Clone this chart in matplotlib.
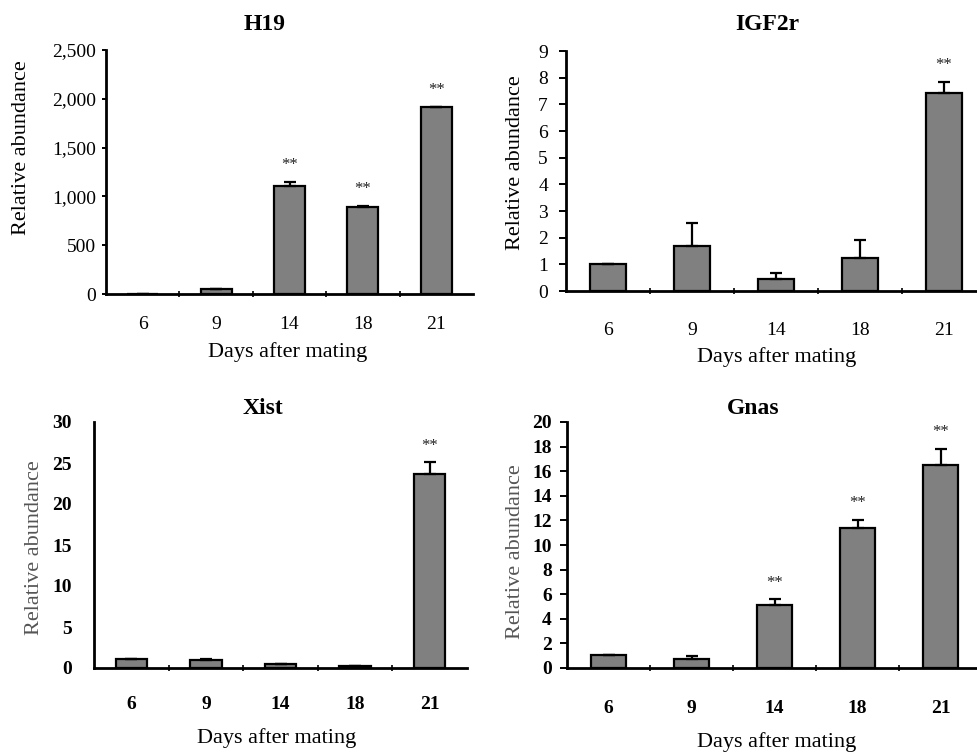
"""
:synopsis: Relative abundance of imprinted genes by days after mating.
"""

# third party imports
from matplotlib import pyplot
from matplotlib.ticker import FuncFormatter
import numpy

# chart data
days = ['6', '9', '14', '18', '21']

h19_values = [1, 48, 1107, 888, 1919]
h19_errors = [0, 4, 44, 17, 0]
h19_stars = [False, False, True, True, True]

igf2r_values = [1.0, 1.69, 0.44, 1.25, 7.44]
igf2r_errors = [0, 0.85, 0.22, 0.66, 0.41]
igf2r_stars = [False, False, False, False, True]

xist_values = [1.14, 0.94, 0.5, 0.28, 23.7]
xist_errors = [0, 0.16, 0, 0, 1.4]
xist_stars = [False, False, False, False, True]

gnas_values = [1.03, 0.76, 5.1, 11.36, 16.5]
gnas_errors = [0, 0.19, 0.47, 0.68, 1.3]
gnas_stars = [False, False, True, True, True]

W, H = 977, 754
SERIF = 'Liberation Serif'
pyplot.rcParams['font.family'] = SERIF


def frac(x, y):
    """Convert pixel coordinates (from top left) to figure fractions."""
    return x / W, 1 - y / H


def rect(left, top, right, bottom):
    return [left / W, 1 - bottom / H, (right - left) / W, (bottom - top) / H]


def draw_panel(fig, box, values, errors, stars, ymax, ystep, title,
               title_xy, ylabel_xy, xlabel_xy, xpad, ypad, ytick_len,
               bold_ticks=False, label_color='black', comma=False):
    ax = fig.add_axes(rect(*box))
    pos = numpy.arange(len(days))
    ax.bar(pos, values, 0.42, color='#808080', edgecolor='black',
           linewidth=1.6, zorder=2)
    ax.errorbar(pos, values, yerr=[numpy.zeros(len(errors)), errors],
                fmt='none', ecolor='black', elinewidth=1.6, capsize=4,
                capthick=1.6, zorder=3)
    for x, v, e, s in zip(pos, values, errors, stars):
        if s:
            ax.annotate('**', (x, v + e), xytext=(0, 12),
                        textcoords='offset points', ha='center', va='center',
                        fontsize=12, color='#222222')

    ax.set_xlim(-0.5, len(days) - 0.5)
    ax.set_ylim(0, ymax)
    ax.set_yticks(numpy.arange(0, ymax + ystep / 2, ystep))
    if comma:
        ax.yaxis.set_major_formatter(FuncFormatter(lambda v, _: f'{v:,.0f}'))
    ax.set_xticks(pos)
    ax.set_xticklabels(days)
    ax.set_xticks(pos[:-1] + 0.5, minor=True)
    weight = 'bold' if bold_ticks else 'normal'
    for lab in ax.get_xticklabels() + ax.get_yticklabels():
        lab.set_fontsize(14)
        lab.set_fontweight(weight)
    ax.tick_params(axis='x', which='major', length=0, pad=xpad)
    ax.tick_params(axis='x', which='minor', length=4, width=1.2,
                   direction='inout')
    ax.tick_params(axis='y', length=ytick_len, width=1.4, pad=ypad)

    for side in ('top', 'right'):
        ax.spines[side].set_visible(False)
    for side in ('left', 'bottom'):
        ax.spines[side].set_linewidth(2)

    fig.text(*frac(*title_xy), title, fontsize=17, fontweight='bold',
             ha='center', va='center')
    fig.text(*frac(*ylabel_xy), 'Relative abundance', fontsize=16,
             rotation=90, ha='center', va='center', color=label_color)
    fig.text(*frac(*xlabel_xy), 'Days after mating', fontsize=16,
             ha='center', va='center')
    return ax


fig = pyplot.figure(figsize=(W / 100, H / 100), dpi=100)

draw_panel(fig, (106, 50, 473, 294), h19_values, h19_errors, h19_stars,
           2500, 500, 'H19', (265, 25), (22, 148), (288, 352),
           xpad=16, ypad=4, ytick_len=3, comma=True)
draw_panel(fig, (566, 51, 986, 291), igf2r_values, igf2r_errors,
           igf2r_stars, 9, 1, 'IGF2r', (767, 25), (515, 163), (777, 357),
           xpad=22, ypad=8, ytick_len=5)
draw_panel(fig, (94, 422, 467, 668), xist_values, xist_errors, xist_stars,
           30, 5, 'Xist', (263, 409), (35, 548), (277, 738),
           xpad=20, ypad=16, ytick_len=0, bold_ticks=True,
           label_color='#555555')
draw_panel(fig, (567, 422, 982, 668), gnas_values, gnas_errors, gnas_stars,
           20, 2, 'Gnas', (753, 408), (515, 552), (777, 742),
           xpad=23, ypad=6, ytick_len=5, bold_ticks=True,
           label_color='#555555')

fig.savefig('out.png', dpi=100)
